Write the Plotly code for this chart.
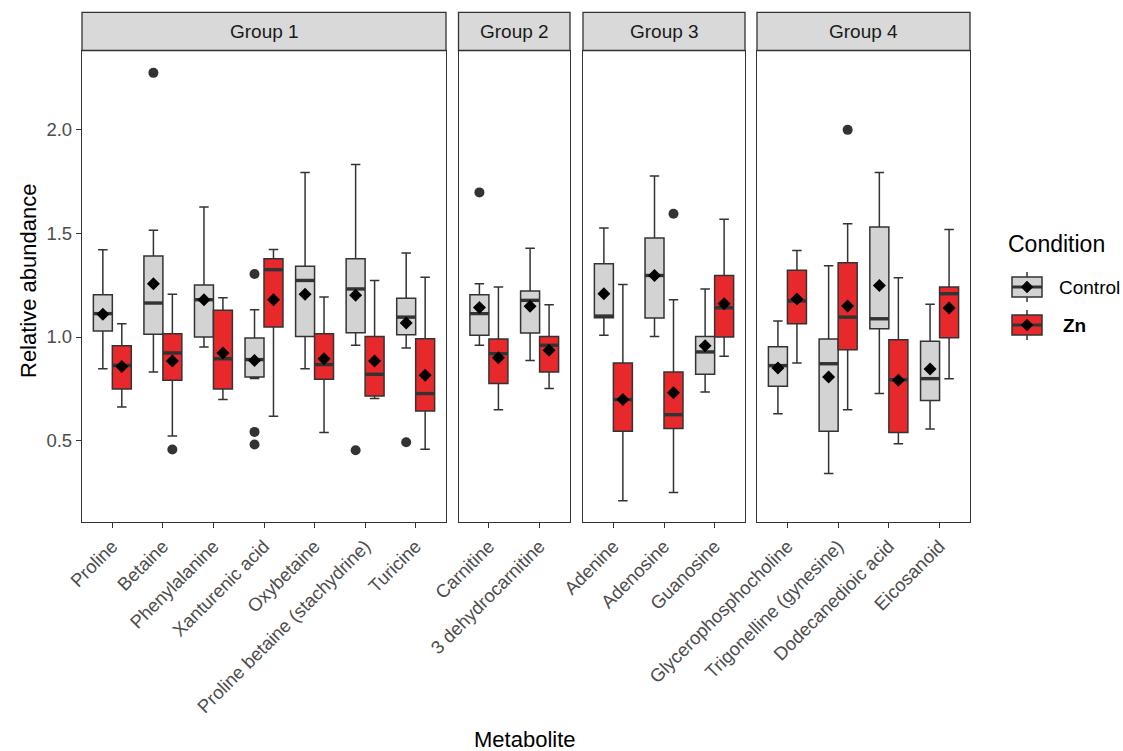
import plotly.graph_objects as go

# ---------------- data ----------------
group_names = ["Group 1", "Group 2", "Group 3", "Group 4"]
group1 = ["Proline", "Betaine", "Phenylalanine", "Xanturenic acid", "Oxybetaine",
          "Proline betaine (stachydrine)", "Turicine"]
group2 = ["Carnitine", "3 dehydrocarnitine"]
group3 = ["Adenine", "Adenosine", "Guanosine"]
group4 = ["Glycerophosphocholine", "Trigonelline (gynesine)", "Dodecanedioic acid", "Eicosanoid"]
groups = [group1, group2, group3, group4]

conditions = ["Control", "Zn"]

# Control statistics (metabolite order: group1..group4)
ctrl_lower  = [0.847, 0.831, 0.952, 0.800, 0.847, 0.960, 0.947, 0.960, 0.887, 1.008, 1.003, 0.735, 0.630, 0.341, 0.727, 0.556]
ctrl_q1     = [1.029, 1.013, 1.000, 0.807, 1.003, 1.021, 1.011, 1.008, 1.019, 1.093, 1.092, 0.820, 0.762, 0.545, 1.040, 0.694]
ctrl_median = [1.113, 1.164, 1.180, 0.891, 1.273, 1.232, 1.096, 1.113, 1.177, 1.101, 1.297, 0.928, 0.862, 0.871, 1.088, 0.799]
ctrl_q3     = [1.204, 1.391, 1.251, 0.995, 1.341, 1.378, 1.187, 1.204, 1.222, 1.354, 1.478, 1.003, 0.953, 0.990, 1.531, 0.979]
ctrl_upper  = [1.421, 1.515, 1.627, 1.132, 1.794, 1.833, 1.405, 1.257, 1.428, 1.526, 1.777, 1.232, 1.077, 1.344, 1.794, 1.158]
ctrl_mean   = [1.110, 1.257, 1.180, 0.887, 1.206, 1.201, 1.068, 1.142, 1.148, 1.209, 1.297, 0.958, 0.850, 0.807, 1.249, 0.846]

# Zn statistics
zn_lower  = [0.662, 0.522, 0.698, 0.617, 0.539, 0.703, 0.458, 0.649, 0.751, 0.209, 0.249, 0.907, 0.875, 0.649, 0.485, 0.799]
zn_q1     = [0.749, 0.791, 0.749, 1.048, 0.796, 0.715, 0.643, 0.775, 0.831, 0.545, 0.558, 1.000, 1.064, 0.939, 0.539, 0.997]
zn_median = [0.863, 0.923, 0.895, 1.325, 0.867, 0.820, 0.727, 0.920, 0.960, 0.698, 0.625, 1.141, 1.174, 1.096, 0.794, 1.209]
zn_q3     = [0.958, 1.016, 1.129, 1.378, 1.016, 1.003, 0.992, 0.990, 1.003, 0.875, 0.831, 1.297, 1.322, 1.359, 0.987, 1.241]
zn_upper  = [1.064, 1.206, 1.190, 1.423, 1.193, 1.273, 1.289, 1.241, 1.156, 1.254, 1.180, 1.568, 1.418, 1.547, 1.286, 1.519]
zn_mean   = [0.858, 0.884, 0.923, 1.180, 0.895, 0.884, 0.815, 0.900, 0.936, 0.698, 0.731, 1.161, 1.183, 1.150, 0.791, 1.140]

# Outliers
outlier_metabolite = ["Betaine", "Betaine", "Xanturenic acid", "Xanturenic acid", "Xanturenic acid",
                      "Proline betaine (stachydrine)", "Turicine", "Carnitine", "Adenosine",
                      "Trigonelline (gynesine)"]
outlier_condition = ["Control", "Zn", "Control", "Control", "Control",
                     "Control", "Control", "Control", "Zn", "Zn"]
outlier_value = [2.275, 0.457, 1.304, 0.542, 0.481, 0.453, 0.492, 1.698, 1.595, 2.000]

y_ticks = [0.5, 1.0, 1.5, 2.0]
y_tick_labels = ["0.5", "1.0", "1.5", "2.0"]

# ---------------- styling ----------------
W, H = 1123, 751
FONT = "Liberation Sans, Arial, sans-serif"
fill = {"Control": "#D3D3D3", "Zn": "#E8292B"}
edge = "#333333"
dodge = 0.1875
bw = 0.375

panel_px = [(82, 446), (458.5, 570), (583, 745), (757, 970)]
y_top_px, y_bot_px = 50.5, 522
strip_top_px = 12.3
ydom = [1 - y_bot_px / H, 1 - y_top_px / H]
yrange = [0.107, 2.383]

stats = {
    "Control": (ctrl_lower, ctrl_q1, ctrl_median, ctrl_q3, ctrl_upper, ctrl_mean),
    "Zn": (zn_lower, zn_q1, zn_median, zn_q3, zn_upper, zn_mean),
}

fig = go.Figure()

idx0 = 0
for gi, mets in enumerate(groups):
    n = len(mets)
    xa = "x" if gi == 0 else f"x{gi+1}"
    ya = "y" if gi == 0 else f"y{gi+1}"
    pos = list(range(1, n + 1))
    sl = slice(idx0, idx0 + n)
    for ci, cond in enumerate(conditions):
        off = -dodge if cond == "Control" else dodge
        lo, q1, md, q3, hi, mn = [s[sl] for s in stats[cond]]
        xs = [p + off for p in pos]
        fig.add_trace(go.Box(
            x=xs, q1=q1, median=md, q3=q3, lowerfence=lo, upperfence=hi,
            width=bw, fillcolor=fill[cond], line=dict(color=edge, width=1.5),
            name=cond, legendgroup=cond, showlegend=False,
            xaxis=xa, yaxis=ya, boxpoints=False,
        ))
        # thick median lines
        mx, my = [], []
        for x, m in zip(xs, md):
            mx += [x - bw / 2, x + bw / 2, None]
            my += [m, m, None]
        fig.add_trace(go.Scatter(x=mx, y=my, mode="lines", line=dict(color=edge, width=3.4),
                                 showlegend=False, hoverinfo="skip", xaxis=xa, yaxis=ya))
        # outliers
        ox, oy = [], []
        for om, oc, ov in zip(outlier_metabolite, outlier_condition, outlier_value):
            if oc == cond and om in mets:
                ox.append(mets.index(om) + 1 + off)
                oy.append(ov)
        if ox:
            fig.add_trace(go.Scatter(x=ox, y=oy, mode="markers",
                                     marker=dict(color=edge, size=10, symbol="circle"),
                                     showlegend=False, hoverinfo="skip", xaxis=xa, yaxis=ya))
        # means
        fig.add_trace(go.Scatter(x=xs, y=mn, mode="markers",
                                 marker=dict(color="black", size=10, symbol="diamond"),
                                 showlegend=False, hoverinfo="skip", xaxis=xa, yaxis=ya))
    idx0 += n

    axkey = "xaxis" if gi == 0 else f"xaxis{gi+1}"
    aykey = "yaxis" if gi == 0 else f"yaxis{gi+1}"
    x0p, x1p = panel_px[gi]
    fig.update_layout(**{
        axkey: dict(domain=[x0p / W, x1p / W], range=[0.4, n + 0.6], anchor=ya,
                    tickmode="array", tickvals=pos, ticktext=mets, tickangle=-45,
                    ticks="outside", ticklen=5, tickwidth=1.3, tickcolor=edge,
                    tickfont=dict(family=FONT, size=18.5, color="#4D4D4D"),
                    showline=True, linecolor=edge, linewidth=1.3, mirror=True,
                    showgrid=False, zeroline=False, fixedrange=True, automargin=False),
        aykey: dict(domain=ydom, range=yrange, anchor=xa,
                    tickmode="array", tickvals=y_ticks, ticktext=y_tick_labels,
                    ticks="outside" if gi == 0 else "", ticklen=5, tickwidth=1.3, tickcolor=edge,
                    showticklabels=(gi == 0),
                    tickfont=dict(family=FONT, size=18.5, color="#4D4D4D"),
                    showline=True, linecolor=edge, linewidth=1.3, mirror=True,
                    showgrid=False, zeroline=False, fixedrange=True, automargin=False),
    })
    # strip
    fig.add_shape(type="rect", xref=f"{xa} domain", yref="paper",
                  x0=0, x1=1, y0=ydom[1], y1=1 - strip_top_px / H,
                  fillcolor="#D9D9D9", line=dict(color=edge, width=1.3), layer="above")
    fig.add_annotation(xref=f"{xa} domain", yref="paper", x=0.5,
                       y=(ydom[1] + 1 - strip_top_px / H) / 2, text=group_names[gi],
                       xanchor="center", yanchor="middle",
                       showarrow=False, font=dict(family=FONT, size=19, color="#1A1A1A"))

# axis titles
fig.add_annotation(xref="paper", yref="paper", x=525 / W, y=1 - 739 / H, text="Metabolite",
                   xanchor="center", yanchor="middle",
                   showarrow=False, font=dict(family=FONT, size=22, color="black"))
fig.add_annotation(xref="paper", yref="paper", x=29 / W, y=1 - 281 / H, text="Relative abundance",
                   xanchor="center", yanchor="middle",
                   textangle=-90, showarrow=False, font=dict(family=FONT, size=22, color="black"))

# ---------------- legend (drawn as keys) ----------------
fig.add_annotation(xref="paper", yref="paper", x=1006 / W, y=1 - 244 / H,
                   xanchor="left", yanchor="middle",
                   text="Condition", showarrow=False, font=dict(family=FONT, size=23, color="black"))
legend_keys = [("Control", 287, "Control"), ("Zn", 325, "<b>Zn</b>")]
for cond, cy, label in legend_keys:
    cx = 1027
    ya_ = 1 - cy / H
    xa_ = cx / W
    common = dict(xref="paper", yref="paper", xsizemode="pixel", ysizemode="pixel",
                  xanchor=xa_, yanchor=ya_)
    # whisker
    fig.add_shape(type="line", x0=0, x1=0, y0=-15, y1=15, line=dict(color=edge, width=1.5), **common)
    # box
    fig.add_shape(type="rect", x0=-15, x1=15, y0=-10, y1=10, fillcolor=fill[cond],
                  line=dict(color=edge, width=1.5), **common)
    # median
    fig.add_shape(type="line", x0=-15, x1=15, y0=0, y1=0, line=dict(color=edge, width=3), **common)
    # diamond
    fig.add_shape(type="path", path="M -6 0 L 0 6 L 6 0 L 0 -6 Z", fillcolor="black",
                  line=dict(color="black", width=0.5), **common)
    fig.add_annotation(xref="paper", yref="paper", x=(1057 if cond == "Control" else 1061) / W,
                       y=ya_, xanchor="left", yanchor="middle", text=label, showarrow=False,
                       font=dict(family=FONT, size=19, color="black"))

fig.update_layout(
    width=W, height=H, margin=dict(l=0, r=0, t=0, b=0, autoexpand=False),
    paper_bgcolor="white", plot_bgcolor="white",
    boxmode="overlay", showlegend=False,
    font=dict(family=FONT),
)

fig.write_html("out.html", config={"displayModeBar": False},
               post_script="document.body.style.margin='0';document.body.style.overflow='hidden';")
